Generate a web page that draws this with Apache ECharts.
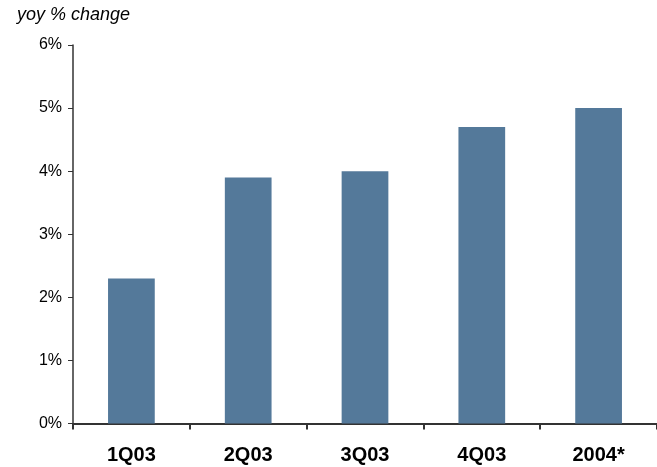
<!DOCTYPE html>
<html>
<head>
<meta charset="utf-8">
<script src="https://cdn.jsdelivr.net/npm/echarts@6/dist/echarts.min.js"></script>
<style>
  html, body { margin: 0; padding: 0; background: #fff; }
  #chart { width: 657px; height: 467px; }
</style>
</head>
<body>
<div id="chart"></div>
<script>
// Year-on-year growth by period
const categories = ['1Q03', '2Q03', '3Q03', '4Q03', '2004*'];
const growth = [2.3, 3.9, 4.0, 4.7, 5.0];
const yTicks = [0, 1, 2, 3, 4, 5, 6];

const chart = echarts.init(document.getElementById('chart'), null, { renderer: 'canvas' });

chart.setOption({
  animation: false,
  backgroundColor: '#ffffff',
  graphic: [{
    type: 'text',
    left: 17,
    top: 6,
    style: {
      text: 'yoy % change',
      font: 'italic 18px "Liberation Sans", Arial, sans-serif',
      fill: '#000'
    }
  }],
  grid: { left: 73, right: -5, top: 45, bottom: 43.5, containLabel: false },
  xAxis: {
    type: 'category',
    data: categories,
    boundaryGap: true,
    axisLine: { show: true, lineStyle: { color: '#333', width: 2 } },
    axisTick: { show: true, length: 6, lineStyle: { color: '#333', width: 2 } },
    axisLabel: {
      color: '#000',
      fontFamily: '"Liberation Sans", Arial, sans-serif',
      fontSize: 20,
      fontWeight: 'bold',
      margin: 22
    },
    splitLine: { show: false }
  },
  yAxis: {
    type: 'value',
    min: yTicks[0],
    max: yTicks[yTicks.length - 1],
    interval: 1,
    axisLine: { show: true, lineStyle: { color: '#333', width: 1.5 } },
    axisTick: { show: true, length: 5, lineStyle: { color: '#333' } },
    axisLabel: {
      color: '#000',
      fontFamily: '"Liberation Sans", Arial, sans-serif',
      fontSize: 16,
      margin: 11,
      formatter: v => v + '%'
    },
    splitLine: { show: false }
  },
  series: [{
    type: 'bar',
    data: growth,
    barWidth: '40%',
    itemStyle: { color: '#54799a' }
  }]
});
</script>
</body>
</html>
